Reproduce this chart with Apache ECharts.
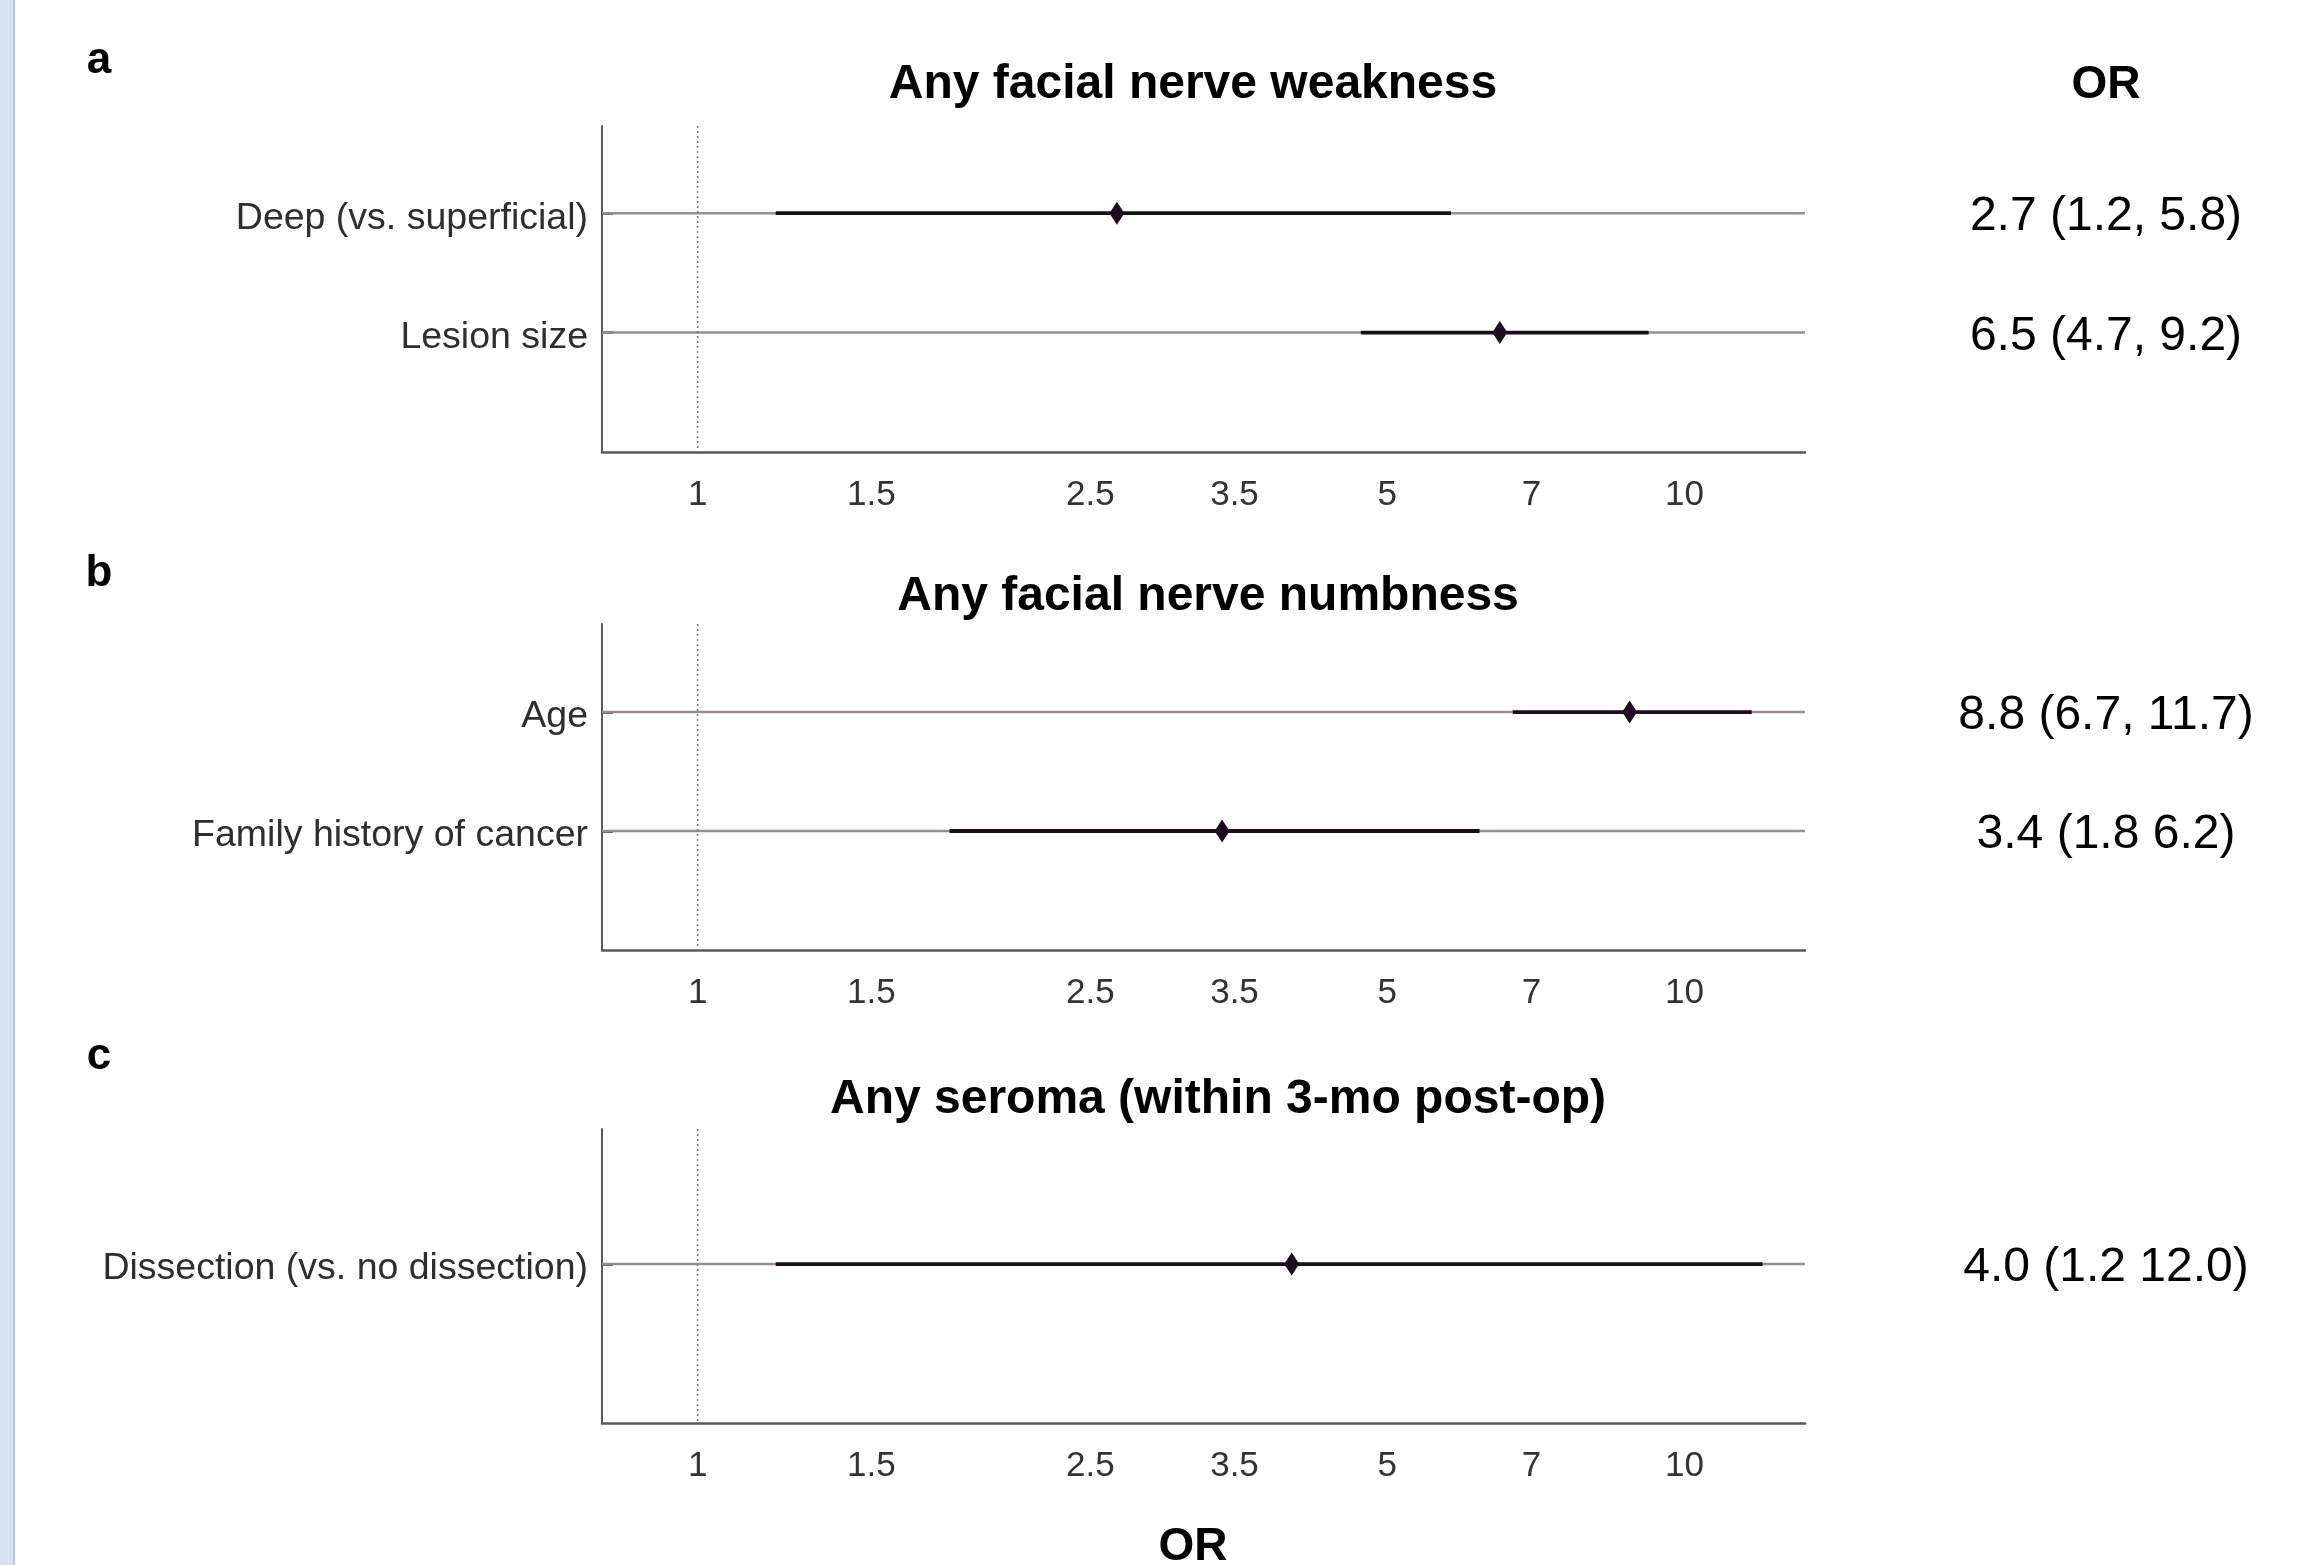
<!DOCTYPE html>
<html>
<head>
<meta charset="utf-8">
<style>
  html, body { margin: 0; padding: 0; background: #ffffff; }
  #chart { width: 2324px; height: 1565px; }
</style>
<script src="https://cdn.jsdelivr.net/npm/echarts@6/dist/echarts.min.js"></script>
</head>
<body>
<div id="chart"></div>
<script>
// ---------------- data ----------------
const panelLetters = ['a', 'b', 'c'];
const panelTitles = ['Any facial nerve weakness', 'Any facial nerve numbness', 'Any seroma (within 3-mo post-op)'];

const catsA = ['Deep (vs. superficial)', 'Lesion size'];
const orA = [2.66, 6.5];
const loA = [1.2, 4.7];
const hiA = [5.8, 9.2];
const orTextA = ['2.7 (1.2, 5.8)', '6.5 (4.7, 9.2)'];

const catsB = ['Age', 'Family history of cancer'];
const orB = [8.8, 3.4];
const loB = [6.7, 1.8];
const hiB = [11.7, 6.2];
const orTextB = ['8.8 (6.7, 11.7)', '3.4 (1.8 6.2)'];

const catsC = ['Dissection (vs. no dissection)'];
const orC = [4.0];
const loC = [1.2];
const hiC = [12.0];
const orTextC = ['4.0 (1.2 12.0)'];

const xTicks = [1, 1.5, 2.5, 3.5, 5, 7, 10];
const xMin = 0.8, xMax = 13.25;
const refValue = 1;

// ---------------- build ----------------
const FONT = "'Liberation Sans', Arial, Helvetica, sans-serif";
const panels = [
  { cats: catsA, or: orA, lo: loA, hi: hiA, txt: orTextA, yMax: 2.73 },
  { cats: catsB, or: orB, lo: loB, hi: hiB, txt: orTextB, yMax: 2.74 },
  { cats: catsC, or: orC, lo: loC, hi: hiC, txt: orTextC, yMax: 1.85 }
];
const gridBoxes = [
  { left: 602, top: 126, width: 1203, height: 326 },
  { left: 602, top: 624, width: 1203, height: 326 },
  { left: 602, top: 1129, width: 1203, height: 294 }
];

const grid = [], xAxis = [], yAxis = [], series = [];

panels.forEach((p, g) => {
  const n = p.cats.length;
  const yPos = p.cats.map((c, i) => n - i);
  grid.push(Object.assign({ outerBoundsMode: 'none', containLabel: false }, gridBoxes[g]));
  xAxis.push({
    type: 'log', logBase: 10, gridIndex: g, min: xMin, max: xMax,
    axisLine: { show: true, lineStyle: { color: '#5a5a5a', width: 2.5 } },
    axisTick: { show: false },
    splitLine: { show: false },
    minorTick: { show: false },
    axisLabel: {
      show: true, customValues: xTicks, margin: 26,
      fontSize: 35, color: '#333333', fontFamily: FONT,
      formatter: v => String(+(+v).toFixed(2))
    }
  });
  // left y axis with category labels
  yAxis.push({
    type: 'value', gridIndex: g, min: 0, max: p.yMax,
    axisLine: { show: true, lineStyle: { color: '#5a5a5a', width: 2 } },
    axisTick: { show: true, inside: true, length: 11, customValues: yPos,
                lineStyle: { color: '#333333', width: 2.5 } },
    splitLine: { show: false },
    axisLabel: {
      show: true, customValues: yPos, margin: 14,
      fontSize: 37.5, color: '#2e2e2e', fontFamily: FONT,
      verticalAlign: 'top', lineHeight: 10,
      formatter: v => p.cats[n - Math.round(v)]
    }
  });
  // right y axis carrying OR text column
  yAxis.push({
    type: 'value', gridIndex: g, position: 'right', min: 0, max: p.yMax,
    axisLine: { show: false }, axisTick: { show: false }, splitLine: { show: false },
    axisLabel: {
      show: true, customValues: yPos, margin: 301, align: 'center',
      fontSize: 48, color: '#000000', fontFamily: FONT,
      verticalAlign: 'top', lineHeight: 8,
      formatter: v => p.txt[n - Math.round(v)]
    }
  });
  const yIdx = 2 * g;
  // row reference lines
  series.push({
    type: 'custom', xAxisIndex: g, yAxisIndex: yIdx, z: 1, silent: true,
    data: yPos.map(y => [refValue, y]),
    encode: { x: 0, y: 1 },
    renderItem: (params, api) => {
      const cs = params.coordSys;
      const yy = api.coord([api.value(0), api.value(1)])[1];
      return { type: 'line', shape: { x1: cs.x, y1: yy, x2: cs.x + cs.width, y2: yy },
               style: { stroke: '#988e98', lineWidth: 2.5 } };
    }
  });
  // dotted line at OR = 1
  series.push({
    type: 'custom', xAxisIndex: g, yAxisIndex: yIdx, z: 2, silent: true,
    data: [[refValue, 0]],
    encode: { x: 0, y: 1 },
    renderItem: (params, api) => {
      const cs = params.coordSys;
      const xx = api.coord([api.value(0), api.value(1)])[0];
      return { type: 'line', shape: { x1: xx, y1: cs.y, x2: xx, y2: cs.y + cs.height },
               style: { stroke: '#7a7a7a', lineWidth: 1.5, lineDash: [2, 3] } };
    }
  });
  // confidence interval segments
  series.push({
    type: 'custom', xAxisIndex: g, yAxisIndex: yIdx, z: 3, silent: true,
    data: yPos.map((y, i) => [p.lo[i], p.hi[i], y]),
    encode: { x: [0, 1], y: 2 },
    renderItem: (params, api) => {
      const a = api.coord([api.value(0), api.value(2)]);
      const b = api.coord([api.value(1), api.value(2)]);
      return { type: 'line', shape: { x1: a[0], y1: a[1], x2: b[0], y2: b[1] },
               style: { stroke: '#1a0b1d', lineWidth: 3.8 } };
    }
  });
  // point estimates
  series.push({
    type: 'scatter', xAxisIndex: g, yAxisIndex: yIdx, z: 4, silent: true,
    symbol: 'diamond', symbolSize: [15, 23],
    itemStyle: { color: '#1f0a22', opacity: 1 },
    data: yPos.map((y, i) => [p.or[i], y])
  });
});

const letterPos = [[99, 61], [99, 574], [99, 1057]];
const titlePos = [[1193, 85], [1208, 597], [1218, 1100]];
const graphic = [
  { type: 'rect', shape: { x: 0, y: 0, width: 13, height: 1565 }, style: { fill: '#d7e1f4' }, silent: true },
  { type: 'rect', shape: { x: 13, y: 0, width: 2, height: 1565 }, style: { fill: '#b8c9ea' }, silent: true },
  { type: 'text', x: 2106, y: 85, style: { text: 'OR', font: "bold 46px " + FONT, fill: '#000', textAlign: 'center', textVerticalAlign: 'middle' } },
  { type: 'text', x: 1193, y: 1547, style: { text: 'OR', font: "bold 46px " + FONT, fill: '#000', textAlign: 'center', textVerticalAlign: 'middle' } }
];
panelLetters.forEach((l, i) => graphic.push({
  type: 'text', x: letterPos[i][0], y: letterPos[i][1],
  style: { text: l, font: "bold 44px " + FONT, fill: '#000', textAlign: 'center', textVerticalAlign: 'middle' }
}));
panelTitles.forEach((t, i) => graphic.push({
  type: 'text', x: titlePos[i][0], y: titlePos[i][1],
  style: { text: t, font: "bold 48px " + FONT, fill: '#000', textAlign: 'center', textVerticalAlign: 'middle' }
}));

const chart = echarts.init(document.getElementById('chart'), null, { renderer: 'canvas' });
chart.setOption({
  backgroundColor: '#ffffff',
  animation: false,
  textStyle: { fontFamily: FONT },
  grid, xAxis, yAxis, series, graphic
});
</script>
</body>
</html>
